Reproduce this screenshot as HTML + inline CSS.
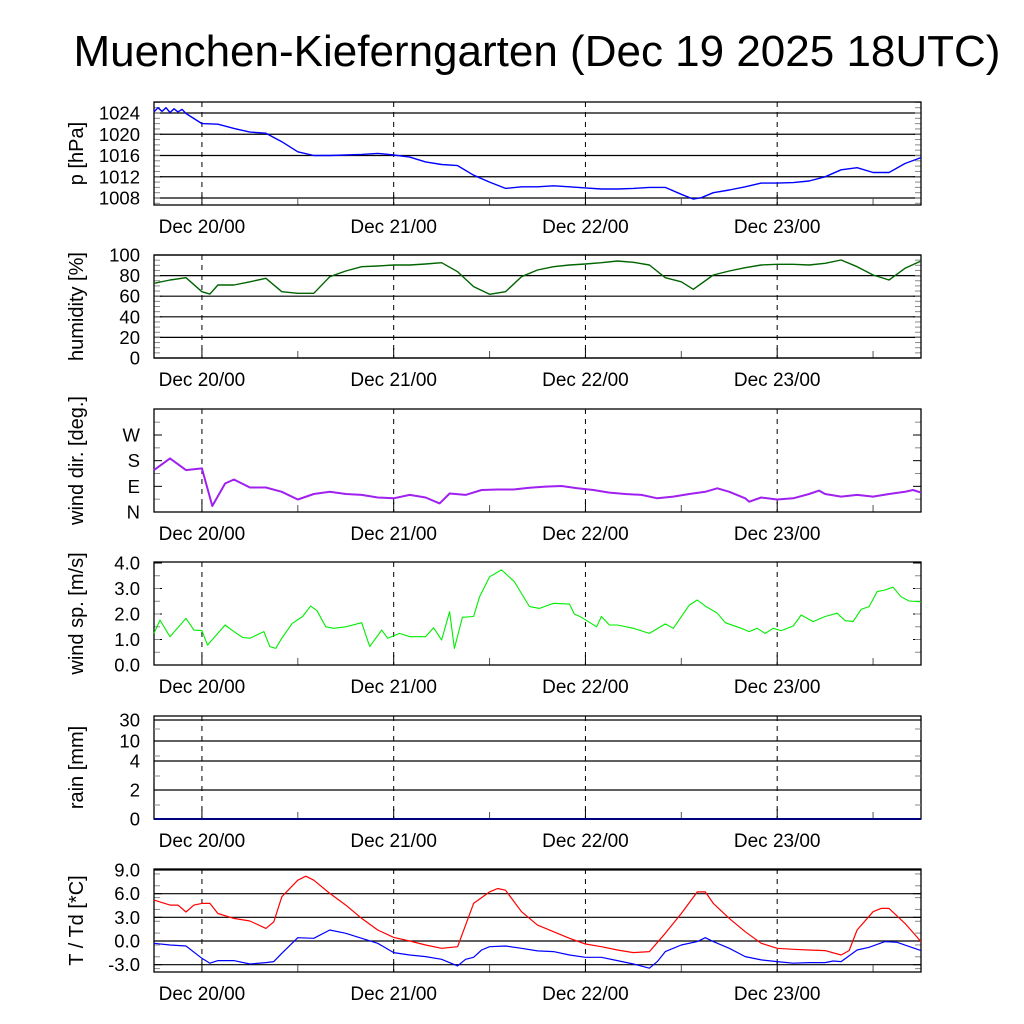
<!DOCTYPE html>
<html><head><meta charset="utf-8"><style>
html,body{margin:0;padding:0;background:#fff;}
svg{display:block;font-family:"Liberation Sans",sans-serif;}
</style></head><body>
<svg id="c" width="1024" height="1024" viewBox="0 0 1024 1024" xmlns="http://www.w3.org/2000/svg">
<text x="537" y="66" font-size="44" text-anchor="middle">Muenchen-Kieferngarten (Dec 19 2025 18UTC)</text>
</svg>
<script>
// ---- data (hours since Dec 19 18UTC) ----
const dayLabels = ["Dec 20/00","Dec 21/00","Dec 22/00","Dec 23/00"];
const dayHours = [6,30,54,78];
const pHours = [0,0.5,1,1.5,2,2.5,3,3.5,4,6,8,10,12,14,16,18,20,22,24,26,28,30,32,34,36,38,40,42,44,46,48,50,52,54,56,58,60,62,64,66,67.5,68.5,70,72,74,76,78,80,82,84,86,88,90,92,94,96];
const pValues = [1024.2,1025,1024.3,1025,1024.1,1024.8,1024.2,1024.7,1023.9,1022,1021.9,1021.1,1020.4,1020.2,1018.6,1016.7,1016,1016,1016.1,1016.2,1016.4,1016.1,1015.7,1014.8,1014.3,1014.1,1012.3,1011,1009.8,1010.1,1010.1,1010.3,1010.1,1009.9,1009.7,1009.7,1009.8,1010,1010,1008.7,1007.8,1008.06,1009,1009.5,1010.1,1010.8,1010.8,1010.9,1011.2,1012,1013.3,1013.7,1012.8,1012.8,1014.5,1015.6];
const pTicks = [1008,1012,1016,1020,1024];
const rhHours = [0,2,4,6,7,8,10,12,14,16,18,20,22,24,26,28,30,32,34,36,38,40,42,44,46,48,50,52,54,56,58,60,62,64,66,67.5,70,72,74,76,78,80,82,84,86,88,90,92,94,96];
const rhValues = [72.5,75.7,78,64.4,62,70.9,70.9,74,77.4,64.4,62.8,62.8,78.9,84.5,88.6,89.3,90.3,90.3,91.3,92.5,83.8,69.3,61.8,64.4,78.9,85.4,88.6,90.3,91.3,92.5,94.2,92.9,90.3,78,74,66.7,80.6,84.5,87.7,90.3,91,91,90.3,91.9,95.1,88.6,80.6,75.7,87.1,94.2];
const rhTicks = [0,20,40,60,80,100];
const wdHours = [0,2,4,6,7.3,8.9,10,12,14,16,18,20,22,24,26,28,30,32,34,35.75,37,39,41,43,45,47,49,51,53,55,57,59,61,63,65,67,69,70.5,72,74,74.5,76,78,80,82,83.25,84,86,88,90,92,94,95,96];
const wdValues = [147,188,147,153,21,100,114,86,86,71,44,63,71,63,60,51,48,60,51,30,65,60,77,79,79,85,89,91,83,77,68,63,60,48,54,63,71,83,71,48,36,51,44,48,63,75,63,54,60,54,63,71,77,68];
const wdTickVals = [0,90,180,270];
const wdTickLabels = ["N","E","S","W"];
const wsHours = [0,0.75,2,4,5,6,6.7,8.9,10,11.1,12,13.75,14.5,15.25,16,17.3,18.6,19.6,20.4,21.5,22.5,24,26,27,28.5,29.25,30.75,32,34,35,36,37,37.6,38.6,40,40.75,42,43.5,45.1,47,48.25,50,52,52.6,53.5,55.4,56,57,58,60,62,64,65,67,68,69,70.5,71.5,73.5,74.5,75.5,76.5,77.5,78.5,80,81,82.5,84,85.5,86.5,87.5,88.5,89.5,90.5,91.5,92.5,93.5,94.5,96];
const wsValues = [1.24,1.76,1.11,1.83,1.37,1.35,0.78,1.57,1.31,1.08,1.05,1.31,0.72,0.65,1.05,1.63,1.9,2.31,2.13,1.5,1.44,1.5,1.66,0.72,1.37,1.05,1.24,1.11,1.11,1.46,0.98,2.09,0.65,1.87,1.9,2.68,3.46,3.73,3.27,2.29,2.22,2.42,2.39,2.0,1.87,1.5,1.9,1.57,1.57,1.44,1.24,1.61,1.44,2.35,2.55,2.31,2.03,1.66,1.44,1.31,1.44,1.24,1.44,1.35,1.53,1.96,1.7,1.9,2.03,1.74,1.7,2.18,2.29,2.88,2.94,3.05,2.68,2.51,2.48];
const wsTicks = [0,1,2,3,4];
const rainHours = [0,96];
const rainValues = [0,0];
const rainTickLabels = ["0","2","4","10","30"];
const tHours = [0,2,3,4,5,6,7,8,10,12,14,15,16,18,19,20,22,24,26,28,30,32,34,36,38,40,42,43,44,46,48,50,52,54,56,58,60,62,64,66,68,69,70,72,74,76,78,80,82,84,86,87,88,90,91,92,94,96];
const tValues = [5.18,4.55,4.55,3.68,4.55,4.76,4.76,3.49,2.86,2.53,1.6,2.44,5.6,7.71,8.21,7.71,6.03,4.55,2.86,1.39,0.46,0,-0.51,-0.93,-0.72,4.76,6.23,6.65,6.44,3.71,2.02,1.18,0.34,-0.38,-0.72,-1.14,-1.47,-1.35,0.97,3.49,6.23,6.23,4.76,2.86,1.18,-0.29,-0.93,-1.05,-1.14,-1.22,-1.77,-1.22,1.39,3.71,4.13,4.13,2.23,-0.08];
const tdHours = [0,2,4,6,7,8,10,12,14,15,16,18,20,22,24,26,28,30,32,34,36,38,39,40,41,42,44,46,48,50,52,54,56,58,60,62,63,64,66,68,69,70,72,74,76,78,80,82,84,85,86,88,89.5,91.5,93,96];
const tdValues = [-0.29,-0.51,-0.63,-2.19,-2.82,-2.48,-2.48,-2.91,-2.74,-2.61,-1.56,0.42,0.34,1.39,0.97,0.34,-0.29,-1.47,-1.77,-1.98,-2.32,-3.16,-2.32,-2.06,-1.14,-0.72,-0.63,-0.93,-1.26,-1.35,-1.77,-2.06,-2.06,-2.48,-2.91,-3.45,-2.61,-1.35,-0.51,-0.08,0.42,-0.08,-0.93,-1.98,-2.4,-2.61,-2.82,-2.74,-2.74,-2.53,-2.61,-1.14,-0.8,-0.08,-0.17,-1.22];
const tTicks = [-3,0,3,6,9];
const tTickLabels = ["-3.0","0.0","3.0","6.0","9.0"];

const svg = document.getElementById('c');
const NS = "http://www.w3.org/2000/svg";
const X0 = 154, X1 = 921;
function xs(h){ return X0 + (X1 - X0) * h / 96; }
function mk(tag, attrs, parent){ const e = document.createElementNS(NS, tag); for (const k in attrs) e.setAttribute(k, attrs[k]); (parent||svg).appendChild(e); return e; }

function panel(name, top, bottom, ylab, ys, ticks, labels, grid, minors){
  const g = mk('g', {});
  
  
  if (grid) ticks.forEach(v => { const y = ys(v); const l = mk('line', {x1:X0,x2:X1,y1:y,y2:y,stroke:'#000','stroke-width':1.2}, g);
      });
  ticks.forEach((v,i) => { const y = ys(v);
    mk('line',{x1:X0,x2:X0+8,y1:y,y2:y,stroke:'#000'},g); mk('line',{x1:X1-8,x2:X1,y1:y,y2:y,stroke:'#000'},g);
    const t = mk('text',{x:X0-14,y:y+6.5,'font-size':18.5,'text-anchor':'end'},g); t.textContent = labels[i];
      });
  (minors||[]).forEach(v => { const y = ys(v);
    if (y <= top || y >= bottom) return;
    mk('line',{x1:X0,x2:X0+6,y1:y,y2:y,stroke:'#888'},g); mk('line',{x1:X1-6,x2:X1,y1:y,y2:y,stroke:'#888'},g); });
  dayHours.forEach((h,i) => { const x = xs(h);
    const l = mk('line',{x1:x,x2:x,y1:top,y2:bottom,stroke:'#000','stroke-dasharray':'5,5'},g);
     
    mk('line',{x1:x,x2:x,y1:bottom-10,y2:bottom,stroke:'#000'},g);
    const t = mk('text',{x:x,y:bottom+28,'font-size':19,'text-anchor':'middle'},g); t.textContent = dayLabels[i];
      });
  [18,42,66,90].forEach(h => { const x = xs(h); mk('line',{x1:x,x2:x,y1:bottom-7,y2:bottom,stroke:'#555'},g); });
  const f = mk('rect',{x:X0,y:top,width:X1-X0,height:bottom-top,fill:'none',stroke:'#000','stroke-width':1.3},g);
   
  const cy = (top+bottom)/2;
  const yl = mk('text',{x:0,y:0,'font-size':20,'text-anchor':'middle',transform:`translate(83,${cy}) rotate(-90)`},g);
  yl.textContent = ylab;
   
  return g;
}
function series(g, name, hours, vals, ys, color, w){
  const d = hours.map((h,i) => (i?'L':'M') + xs(h).toFixed(1) + ',' + ys(vals[i]).toFixed(1)).join(' ');
  const p = mk('path',{d:d,fill:'none',stroke:color,'stroke-width':w||1.3,'stroke-linejoin':'round'},g);
  
  
}
function lin(v0,y0,v1,y1){ return v => y0 + (v - v0) * (y1 - y0) / (v1 - v0); }
function range(a,b,s){ const r=[]; for(let v=a; v<=b+1e-9; v+=s) r.push(v); return r; }

let ys = lin(1008,198,1024,113);
let g = panel('pressure',102,205,'p [hPa]',ys,pTicks,pTicks.map(String),true,range(1007,1026,1));
series(g,'pressure-line',pHours,pValues,ys,'#0000ff',1.4);

ys = lin(0,358,100,255);
g = panel('humidity',255,358,'humidity [%]',ys,rhTicks,rhTicks.map(String),true,range(5,95,5));
series(g,'humidity-line',rhHours,rhValues,ys,'#006400',1.4);

ys = lin(0,512,270,435);
g = panel('wind-direction',409,512,'wind dir. [deg.]',ys,wdTickVals,wdTickLabels,false,[45,135,225,315]);
series(g,'wind-direction-line',wdHours,wdValues,ys,'#a020f0',2);

ys = lin(0,665,4,563);
g = panel('wind-speed',562,665,'wind sp. [m/s]',ys,wsTicks,wsTicks.map(v=>v.toFixed(1)),false,range(0.5,3.5,0.5));
series(g,'wind-speed-line',wsHours,wsValues,ys,'#00ee00',1.1);

const rainY = {0:819,2:790,4:761,10:741,30:720};
const rainVals = [0,2,4,10,30];
ys = v => rainY[v] !== undefined ? rainY[v] : 819;
g = panel('rain',716,819,'rain [mm]',ys,rainVals,rainTickLabels,true,[]);
[805,776,756,729].forEach(y=>{ mk('line',{x1:X0,x2:X0+6,y1:y,y2:y,stroke:'#888'},g); mk('line',{x1:X1-6,x2:X1,y1:y,y2:y,stroke:'#888'},g); });
series(g,'rain-line',rainHours,rainValues,ys,'#000080',2);

ys = lin(0,941,9,870);
g = panel('temperature',869,972,'T / Td [*C]',ys,tTicks,tTickLabels,true,range(-3.5,9,1.5));
series(g,'temperature-line',tHours,tValues,ys,'#ff0000',1.2);
series(g,'dewpoint-line',tdHours,tdValues,ys,'#0000ff',1.2);
</script>
</body></html>
